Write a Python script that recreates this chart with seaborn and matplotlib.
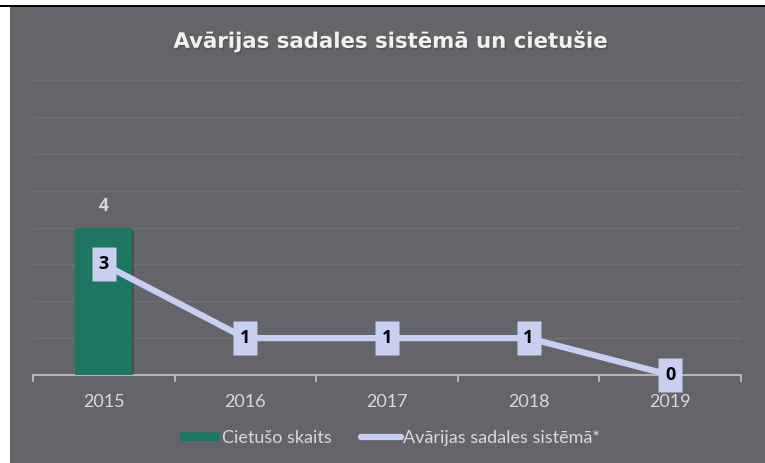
import numpy as np
import pandas as pd
import matplotlib
matplotlib.use("Agg")
import matplotlib.pyplot as plt
import matplotlib.patheffects as pe
from matplotlib.patches import Rectangle, Patch
from matplotlib.lines import Line2D
import seaborn as sns

# data
years = ["2015", "2016", "2017", "2018", "2019"]
injured = [4, np.nan, np.nan, np.nan, np.nan]
failures = [3, 1, 1, 1, 0]

title = "Avārijas sadales sistēmā un cietušie"
bar_label = "Cietušo skaits"
line_label = "Avārijas sadales sistēmā*"

bg = "#646569"
grid_col = "#707175"
bar_col = "#1d7562"
line_col = "#c9cff0"
text_col = "#d9d9d9"
bold_font = ["Open Sans", "DejaVu Sans"]

sns.set_theme(style="white")
plt.rcParams["font.family"] = ["Lato", "DejaVu Sans"]

fig = plt.figure(figsize=(7.65, 4.63), dpi=100, facecolor="white")

# grey chart area with a thin black border at the top
fig.patches.append(Rectangle((10 / 765, 0), 755 / 765, 456 / 463,
                             transform=fig.transFigure, facecolor=bg,
                             edgecolor="none", zorder=-2))
fig.patches.append(Rectangle((0, 456 / 463), 1, 1.6 / 463,
                             transform=fig.transFigure, facecolor="black",
                             edgecolor="none", zorder=-1))

ax = fig.add_axes([33 / 765, 1 - 375 / 463, 708 / 765, (375 - 80) / 463])
ax.set_facecolor("none")

df = pd.DataFrame({"year": years, "injured": injured, "failures": failures})

sns.barplot(data=df, x="year", y="injured", color=bar_col, width=0.4,
            saturation=1, linewidth=0, edgecolor="none", ax=ax, zorder=2)
for p in ax.patches:
    p.set_path_effects([pe.SimplePatchShadow(offset=(1.5, -1.5), alpha=0.3),
                        pe.Normal()])

# tall label boxes drawn as markers on the line
box = [(-0.7, -1), (0.7, -1), (0.7, 1), (-0.7, 1), (-0.7, -1)]
sns.lineplot(data=df, x="year", y="failures", color=line_col, lw=4.5,
             marker=box, ms=24, mec="none", mfc=line_col,
             ax=ax, zorder=4, sort=False, clip_on=False)
ax.lines[0].set_path_effects([pe.SimpleLineShadow(offset=(2, -2), alpha=0.3),
                              pe.Normal()])

# value labels
for i, v in enumerate(injured):
    if not np.isnan(v):
        ax.text(i, v + 0.35, f"{int(v)}", ha="center", va="bottom",
                fontsize=12.5, fontweight="bold", color=text_col, zorder=5,
                family=bold_font)
for i, v in enumerate(failures):
    ax.text(i, v, f"{v}", ha="center", va="center", fontsize=13,
            fontweight="bold", color="black", zorder=6, family=bold_font,
            clip_on=False)

ax.set_xlim(-0.5, 4.5)
ax.set_ylim(0, 8)
ax.set_yticks(range(1, 9))
ax.yaxis.grid(True, color=grid_col, lw=1)
ax.set_yticklabels([])
ax.tick_params(axis="y", length=0)
ax.set_axisbelow(True)

for s in ["top", "right", "left"]:
    ax.spines[s].set_visible(False)
ax.spines["bottom"].set_color("#b5b5b5")
ax.spines["bottom"].set_linewidth(1.5)
ax.spines["bottom"].set_zorder(1)

ax.set_xticks(range(len(years)))
ax.set_xticklabels(years)
ax.set_xticks(np.arange(-0.5, 5, 1), minor=True)
ax.tick_params(axis="x", which="major", length=0, pad=14, labelsize=13,
               colors=text_col)
ax.tick_params(axis="x", which="minor", length=5, width=1.5,
               color="#b5b5b5", bottom=True)
ax.set_xlabel("")
ax.set_ylabel("")

fig.text(390 / 765, 1 - 41 / 463, title, ha="center", va="center",
         fontsize=15.3, fontweight="bold", color="#f2f2f2",
         family=["DejaVu Sans"],
         path_effects=[pe.withSimplePatchShadow(offset=(1, -1.5), alpha=0.5)])

handles = [Patch(facecolor=bar_col, edgecolor="none"),
           Line2D([0], [0], color=line_col, lw=4.5)]
fig.legend(handles, [bar_label, line_label], loc="center",
           bbox_to_anchor=(390 / 765, 1 - 438 / 463), ncol=2, frameon=False,
           fontsize=13, labelcolor=text_col, handlelength=2.2,
           handleheight=0.45, handletextpad=0.15, columnspacing=1.6)

fig.savefig("out.png", dpi=100, facecolor="white")
